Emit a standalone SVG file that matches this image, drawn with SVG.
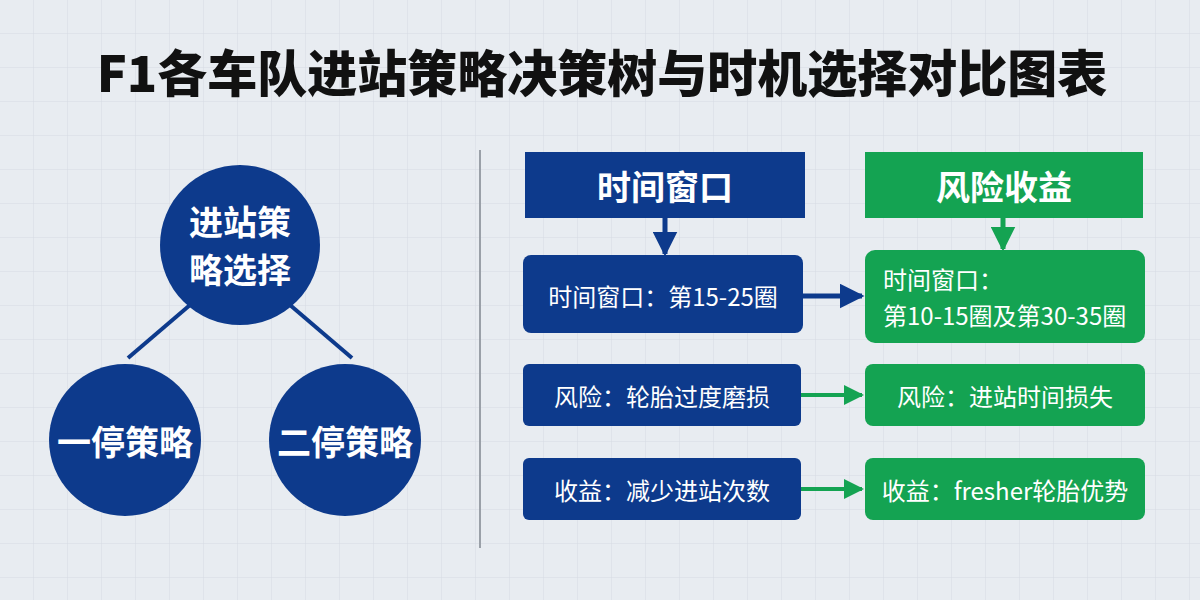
<svg xmlns="http://www.w3.org/2000/svg" width="1200" height="600" viewBox="0 0 1200 600">
<defs>
<pattern id="grid" width="34" height="34" patternUnits="userSpaceOnUse" x="0" y="0"><path d="M34 0V34H0" fill="none" stroke="#d6dbe3" stroke-width="1"/></pattern>
<marker id="ab" viewBox="0 0 10 10" refX="9" refY="5" markerWidth="5" markerHeight="5" orient="auto" markerUnits="strokeWidth"><path d="M0 0L10 5L0 10z" fill="#0d3a8c"/></marker>
<marker id="ag" viewBox="0 0 10 10" refX="9" refY="5" markerWidth="5" markerHeight="5" orient="auto" markerUnits="strokeWidth"><path d="M0 0L10 5L0 10z" fill="#14a352"/></marker>
<style>
text{font-family:"Noto Sans CJK SC","Noto Sans",sans-serif;fill:#fff;text-anchor:middle;dominant-baseline:central}
.b{fill:#0d3a8c}.g{fill:#14a352}
.t{font-size:24px}
.h{font-size:34px;font-weight:bold}
.c{font-size:34px;font-weight:bold}
</style>
</defs>
<rect width="1200" height="600" fill="#e8ecf1"/>
<rect width="1200" height="600" fill="url(#grid)"/>
<text x="602" y="70" style="font-size:50px;font-weight:900;fill:#111">F1各车队进站策略决策树与时机选择对比图表</text>
<line x1="480" y1="150" x2="480" y2="548" stroke="#9aa0a8" stroke-width="2"/>
<g id="connectors" fill="none">
<line x1="190" y1="305" x2="128" y2="358" stroke="#0d3a8c" stroke-width="4"/>
<line x1="290" y1="305" x2="352" y2="358" stroke="#0d3a8c" stroke-width="4"/>
<line x1="665" y1="218" x2="665" y2="254" stroke="#0d3a8c" stroke-width="5" marker-end="url(#ab)"/>
<line x1="1003" y1="218" x2="1003" y2="249" stroke="#14a352" stroke-width="5" marker-end="url(#ag)"/>
<line x1="803" y1="296" x2="862" y2="296" stroke="#0d3a8c" stroke-width="5" marker-end="url(#ab)"/>
<line x1="801" y1="395" x2="862" y2="395" stroke="#14a352" stroke-width="4" marker-end="url(#ag)"/>
<line x1="801" y1="489" x2="862" y2="489" stroke="#14a352" stroke-width="4" marker-end="url(#ag)"/>
</g>
<g id="root"><circle cx="240" cy="245" r="80" class="b"/><text x="240" y="220" class="c">进站策</text><text x="240" y="268" class="c">略选择</text></g>
<g id="one"><circle cx="125" cy="440" r="76" class="b"/><text x="125" y="440" class="c">一停策略</text></g>
<g id="two"><circle cx="345" cy="440" r="76" class="b"/><text x="345" y="440" class="c">二停策略</text></g>
<g id="hTime"><rect x="525" y="152" width="280" height="66" class="b"/><text x="665" y="185" class="h">时间窗口</text></g>
<g id="hRisk"><rect x="865" y="152" width="278" height="66" class="g"/><text x="1004" y="185" class="h">风险收益</text></g>
<g id="b1"><rect x="523" y="255" width="280" height="78" rx="8" class="b"/><text x="663" y="295" class="t">时间窗口：第15-25圈</text></g>
<g id="g1"><rect x="865" y="250" width="280" height="93" rx="10" class="g"/><text x="883" y="278" class="t" style="text-anchor:start">时间窗口：</text><text x="883" y="314" class="t" style="text-anchor:start">第10-15圈及第30-35圈</text></g>
<g id="b2"><rect x="523" y="364" width="278" height="62" rx="6" class="b"/><text x="662" y="395" class="t">风险：轮胎过度磨损</text></g>
<g id="g2"><rect x="865" y="364" width="280" height="62" rx="8" class="g"/><text x="1005" y="395" class="t">风险：进站时间损失</text></g>
<g id="b3"><rect x="523" y="458" width="278" height="62" rx="6" class="b"/><text x="662" y="489" class="t">收益：减少进站次数</text></g>
<g id="g3"><rect x="865" y="458" width="280" height="62" rx="8" class="g"/><text x="1005" y="489" class="t">收益：fresher轮胎优势</text></g>
</svg>
